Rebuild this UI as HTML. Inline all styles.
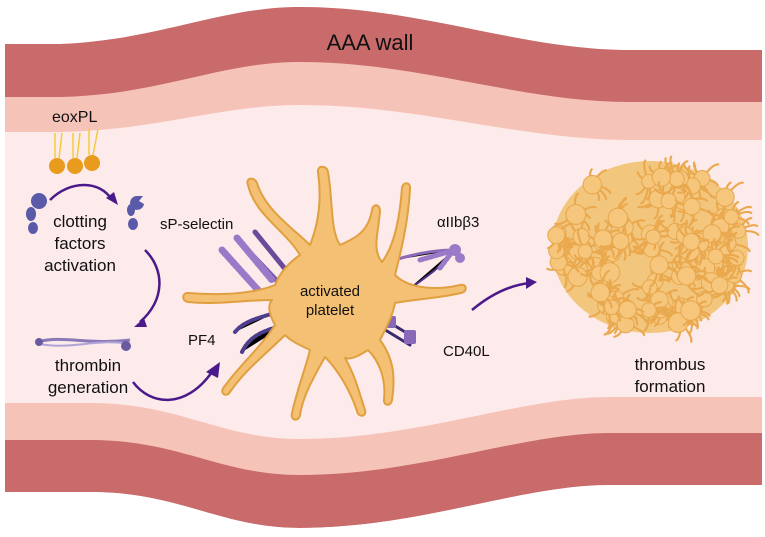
<!DOCTYPE html>
<html><head><meta charset="utf-8"><style>
html,body{margin:0;padding:0;background:#fff}
svg{display:block}
text{font-family:"Liberation Sans",sans-serif;fill:#111}
</style></head><body>
<svg id="s" width="765" height="537" viewBox="0 0 765 537" xmlns="http://www.w3.org/2000/svg">
<rect width="765" height="537" fill="#fff"/>
<rect x="5" y="50" width="757" height="450" fill="#fdeaea"/>
<path d="M5 44 L60 44 C160 40 220 7 300 7 C420 7 520 50 630 50 L762 50 L762 140 L630 140 C520 140 420 105 300 105 C220 105 160 130 60 132 L5 132 Z" fill="#f6c3b8"/>
<path d="M5 44 L60 44 C160 40 220 7 300 7 C420 7 520 50 630 50 L762 50 L762 102 L630 102 C520 102 420 62 300 62 C220 62 160 95 60 97 L5 97 Z" fill="#c96a6b"/>
<path d="M5 403 L90 403 C180 403 220 439 300 439 C420 439 520 397 610 397 L762 397 L762 500 L5 500 Z" fill="#f6c3b8"/>
<path d="M5 440 L90 440 C180 440 220 475 300 475 C420 475 520 433 610 433 L762 433 L762 485 L610 485 C520 485 420 528 300 528 C220 528 180 492 90 492 L5 492 Z" fill="#c96a6b"/>
<path d="M0 492 L90 492 C180 492 220 528 300 528 C420 528 520 485 610 485 L765 485 L765 537 L0 537 Z" fill="#fff"/>
<text x="370" y="50" font-size="22" text-anchor="middle">AAA wall</text>
<text x="52" y="122" font-size="16">eoxPL</text>
<g stroke="#f3cc3a" stroke-width="1.5" fill="none">
<path d="M55 158 V133 M59 158 L62 133 M73 158 V133 M77 158 L80 133 M89 155 V129 M93 155 L98 129"/>
</g>
<g fill="#e89b1c"><circle cx="57" cy="166" r="8"/><circle cx="75" cy="166" r="8"/><circle cx="92" cy="163" r="8"/></g>
<g fill="#5a5aa8">
<circle cx="39" cy="201" r="8"/><ellipse cx="31" cy="214" rx="5" ry="7"/><ellipse cx="33" cy="228" rx="5" ry="6"/>
<path d="M136 196 a7 7 0 1 0 8 8 l-5 -3 l4 -5 z"/><ellipse cx="131" cy="210" rx="4" ry="6"/><ellipse cx="133" cy="224" rx="5" ry="6"/>
</g>
<g fill="none" stroke="#4b1a8a" stroke-width="2.5">
<path d="M50 200 C70 180 100 180 112 200"/>
<path d="M145 250 C165 270 165 300 140 322"/>
<path d="M133 382 C150 405 185 410 212 372"/>
<path d="M472 310 C490 295 510 285 530 283"/>
</g>
<g fill="#4b1a8a">
<path d="M106 198 L118 205 L114 192 Z"/>
<path d="M144 318 L134 327 L147 327 Z"/>
<path d="M206 372 L220 362 L218 378 Z"/>
<path d="M526 277 L537 282 L526 289 Z"/>
</g>
<text x="80" y="227" font-size="17" text-anchor="middle">clotting</text>
<text x="80" y="249" font-size="17" text-anchor="middle">factors</text>
<text x="80" y="271" font-size="17" text-anchor="middle">activation</text>
<path d="M38 342 C60 335 90 345 130 340" stroke="#8a79b8" stroke-width="3" fill="none"/>
<path d="M40 344 C70 350 100 338 128 344" stroke="#b0a4d6" stroke-width="2" fill="none"/>
<circle cx="39" cy="342" r="4" fill="#6a5aa0"/><circle cx="126" cy="346" r="5" fill="#6a5aa0"/>
<text x="88" y="371" font-size="17" text-anchor="middle">thrombin</text>
<text x="88" y="393" font-size="17" text-anchor="middle">generation</text>
<text x="160" y="229" font-size="15">sP-selectin</text>
<text x="188" y="345" font-size="15">PF4</text>
<text x="437" y="227" font-size="15">αIIbβ3</text>
<text x="443" y="356" font-size="15">CD40L</text>
<text x="670" y="370" font-size="17" text-anchor="middle">thrombus</text>
<text x="670" y="392" font-size="17" text-anchor="middle">formation</text>
<g stroke-linecap="round">
<path d="M240 242 L278 282" stroke="#7a5ab0" stroke-width="5"/>
<path d="M255 232 L290 275" stroke="#6a4a9a" stroke-width="5"/>
<path d="M222 250 L258 290" stroke="#9a7ac8" stroke-width="7" stroke-dasharray="2 2"/>
<path d="M237 238 L272 280" stroke="#9a7ac8" stroke-width="7" stroke-dasharray="2 2"/>
<path d="M277 312 C260 318 245 320 235 332" stroke="#4d3d8a" stroke-width="4" stroke-dasharray="3 2"/>
<path d="M285 325 C265 330 250 335 242 352" stroke="#4d3d8a" stroke-width="4" stroke-dasharray="3 2"/>
<path d="M395 260 C420 252 440 250 455 250" stroke="#8a6ab8" stroke-width="3"/>
<path d="M398 298 C420 280 440 270 448 255" stroke="#4d3080" stroke-width="2"/>
<path d="M420 260 L455 250 M440 268 L452 252" stroke="#9a7ac8" stroke-width="5" stroke-dasharray="3 2"/>
<path d="M382 318 L410 335 M382 328 L410 345" stroke="#3a2a70" stroke-width="3"/>
</g>
<circle cx="455" cy="250" r="6" fill="#9a7ac8"/><circle cx="460" cy="258" r="5" fill="#9a7ac8"/>
<rect x="384" y="316" width="12" height="12" rx="2" fill="#8a68b8"/><rect x="404" y="330" width="12" height="14" rx="2" fill="#8a68b8"/>
<g fill="#f4c073" stroke="#e0a040" stroke-width="2" stroke-linejoin="round">
<path d="M300 255 C285 230 255 215 248 185 C245 178 254 176 257 183 C265 210 295 230 310 245
C318 225 322 200 318 172 C317 165 327 165 328 172 C333 200 330 230 340 245
C350 240 368 235 372 210 C373 203 380 204 380 211 C378 235 372 250 382 262
C395 245 400 215 402 188 C403 181 411 182 410 189 C408 225 400 255 395 275
C410 290 440 290 460 285 C467 283 468 292 461 293 C440 298 410 300 395 303
C392 318 385 330 380 340 C395 360 395 380 392 400 C391 407 383 406 384 399 C386 380 380 362 368 350
C360 355 352 360 345 358 C355 375 360 395 365 410 C367 417 358 418 357 411 C350 390 338 370 325 357
C315 375 303 395 300 415 C299 422 290 421 292 413 C297 390 305 370 310 350
C300 345 292 342 285 335 C265 355 245 370 230 392 C226 398 219 393 224 387 C240 365 260 348 275 325
C268 312 268 305 272 300 C245 300 215 305 188 302 C181 301 182 292 189 293 C215 295 250 295 275 285
C280 272 290 262 300 255 Z"/>
</g>
<text x="330" y="296" font-size="15" text-anchor="middle">activated</text>
<text x="330" y="315" font-size="15" text-anchor="middle">platelet</text>
<g id="th"></g>
</svg>
<script>
(function(){
var g=document.getElementById('th'),h='';
var seed=7;function r(){seed=(seed*9301+49297)%233280;return seed/233280;}
h+='<ellipse cx="650" cy="247" rx="98" ry="86" fill="#f3c67e"/>';
for(var i=0;i<90;i++){
 var a=r()*6.283,d=Math.sqrt(r());var cx=650+Math.cos(a)*d*96,cy=247+Math.sin(a)*d*82;
 for(var k=0;k<5;k++){var b=r()*6.283,L=10+r()*10;
  var x2=cx+Math.cos(b)*L,y2=cy+Math.sin(b)*L,x3=x2+Math.cos(b+1)*6,y3=y2+Math.sin(b+1)*6;
  h+='<path d="M'+cx.toFixed(1)+' '+cy.toFixed(1)+' Q'+x2.toFixed(1)+' '+y2.toFixed(1)+' '+x3.toFixed(1)+' '+y3.toFixed(1)+'" stroke="#eaa94e" stroke-width="2.2" fill="none" stroke-linecap="round"/>';}
 h+='<circle cx="'+cx.toFixed(1)+'" cy="'+cy.toFixed(1)+'" r="'+(7+r()*3).toFixed(1)+'" fill="#f5c67c" stroke="#e6a74c" stroke-width="1"/>';
}
g.innerHTML=h;
})();
</script>
</body></html>
